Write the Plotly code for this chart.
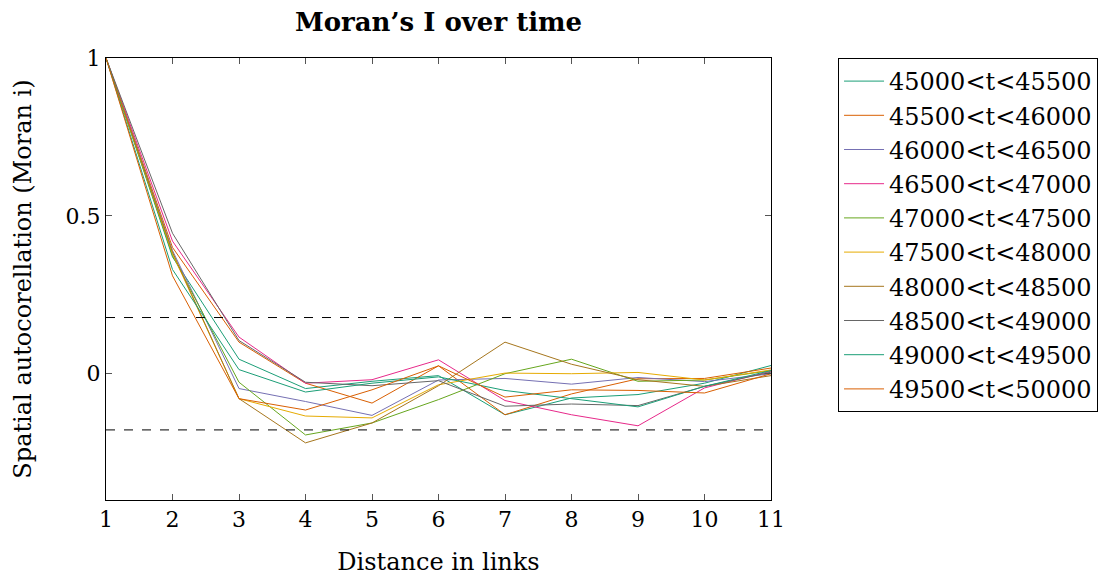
import plotly.graph_objects as go

distance = [1, 2, 3, 4, 5, 6, 7, 8, 9, 10, 11]

labels = ["45000<t<45500", "45500<t<46000", "46000<t<46500", "46500<t<47000",
          "47000<t<47500", "47500<t<48000", "48000<t<48500", "48500<t<49000",
          "49000<t<49500", "49500<t<50000"]

colors = ["#1b9e77", "#d95f02", "#7570b3", "#e7298a", "#66a61e",
          "#e6ab02", "#a6761d", "#666666", "#1b9e77", "#d95f02"]

s45000 = [1.0, 0.37, 0.046, -0.047, -0.024, -0.006, -0.130, -0.077, -0.066, -0.030, 0.026]
s45500 = [1.0, 0.40, 0.100, -0.030, -0.093, 0.025, -0.130, -0.064, -0.016, -0.015, 0.018]
s46000 = [1.0, 0.39, -0.047, -0.088, -0.132, -0.020, -0.015, -0.033, -0.012, -0.025, 0.000]
s46500 = [1.0, 0.42, 0.116, -0.030, -0.019, 0.044, -0.085, -0.130, -0.165, -0.045, 0.008]
s47000 = [1.0, 0.375, -0.027, -0.194, -0.156, -0.082, 0.000, 0.046, -0.024, -0.020, 0.010]
s47500 = [1.0, 0.38, -0.079, -0.134, -0.140, -0.035, 0.002, 0.000, 0.004, -0.020, 0.012]
s48000 = [1.0, 0.385, -0.079, -0.219, -0.156, -0.038, 0.100, 0.030, -0.019, -0.040, -0.006]
s48500 = [1.0, 0.445, 0.105, -0.027, -0.038, -0.022, -0.103, -0.096, -0.101, -0.040, 0.005]
s49000 = [1.0, 0.33, 0.013, -0.058, -0.030, -0.010, -0.053, -0.080, -0.105, -0.040, 0.010]
s49500 = [1.0, 0.31, -0.079, -0.115, -0.051, 0.025, -0.074, -0.051, -0.053, -0.061, 0.000]

series = [s45000, s45500, s46000, s46500, s47000, s47500, s48000, s48500, s49000, s49500]

conf_band = 0.178

FONT = "DejaVu Serif"

fig = go.Figure()
for lab, col, vals in zip(labels, colors, series):
    fig.add_trace(go.Scatter(x=distance, y=vals, mode="lines", name=lab,
                             line=dict(color=col, width=1)))

for v in (conf_band, -conf_band):
    fig.add_shape(type="line", xref="paper", yref="y", x0=0, x1=1, y0=v, y1=v,
                  line=dict(color="black", width=1, dash="dash"))

fig.update_layout(
    width=1114, height=577,
    margin=dict(l=106, r=343, t=58, b=77),
    paper_bgcolor="white", plot_bgcolor="white",
    font=dict(family=FONT, size=22, color="black"),
    title=dict(text="<b>Moran’s I over time</b>", x=(106 + 771) / 2 / 1114, xanchor="center",
               y=1 - 22 / 577, yanchor="middle", font=dict(family=FONT, size=26)),
    showlegend=True,
    legend=dict(x=1.1008, y=1.0, xanchor="left", yanchor="top",
                bordercolor="black", borderwidth=1, bgcolor="white",
                font=dict(family=FONT, size=24), tracegroupgap=0,
                itemwidth=40),
)

fig.update_xaxes(range=[1, 11], tickmode="array", tickvals=distance, automargin=False,
                 ticks="inside", ticklen=6, tickcolor="#555", mirror="ticks",
                 showline=True, linecolor="black", linewidth=1, showgrid=False, zeroline=False,
                 title=dict(text="Distance in links", standoff=21, font=dict(size=24)),
                 tickfont=dict(size=22))
fig.update_yaxes(range=[-0.4, 1.0], tickmode="array", tickvals=[0, 0.5, 1], automargin=False,
                 ticktext=["0", "0.5", "1"],
                 ticks="inside", ticklen=6, tickcolor="#555", mirror="ticks",
                 showline=True, linecolor="black", linewidth=1, showgrid=False, zeroline=False,
                 title=dict(text="Spatial autocorellation (Moran i)", standoff=27, font=dict(size=24)),
                 tickfont=dict(size=22))

fig.write_html("out.html")
